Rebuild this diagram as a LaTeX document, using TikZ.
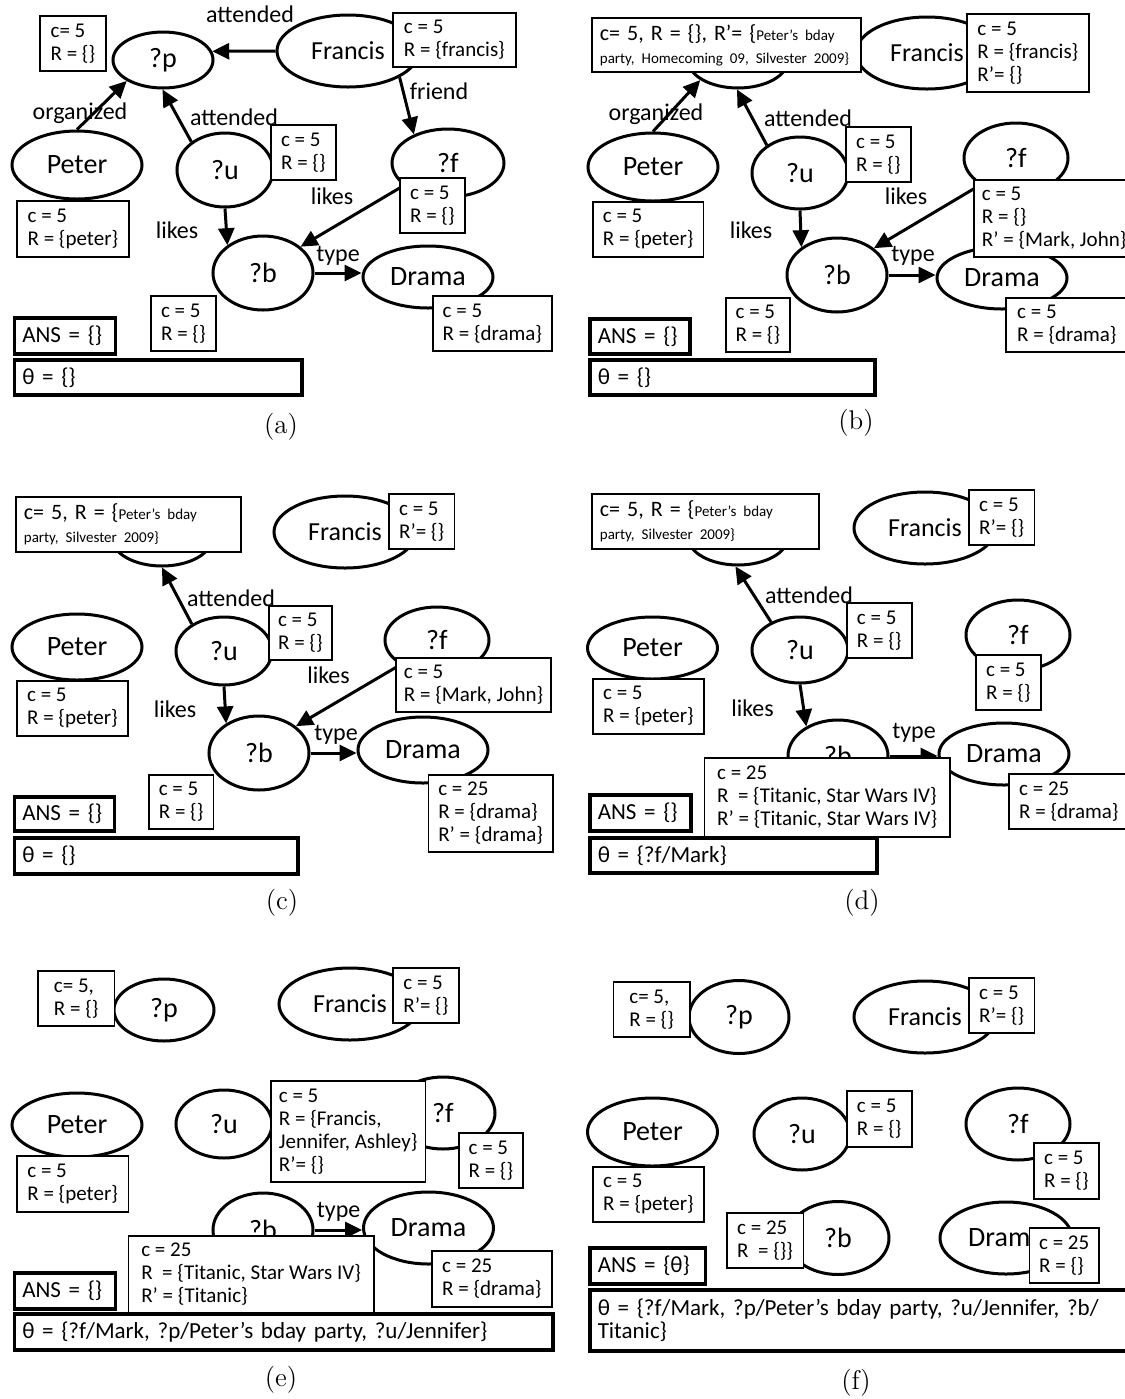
\documentclass[tikz,border=0pt]{standalone}
\usepackage{fontspec}
\setsansfont{Carlito}
\usetikzlibrary{shapes.geometric, arrows.meta}
\newcommand{\bxfont}{\sffamily\fontsize{10.5}{11.5}\selectfont}
\newcommand{\lgfont}{\fontsize{11}{11}\selectfont}
\newcommand{\smfont}{\fontsize{7.5}{11}\selectfont}

\begin{document}
\begin{tikzpicture}[x=0.5pt, y=-0.5pt,
    var/.style={ellipse, draw, fill=white, line width=1.5pt, inner sep=0pt,
      font=\sffamily\fontsize{14}{16}\selectfont},
    qp/.style={var, minimum width=50pt, minimum height=28pt},
    fr/.style={var, minimum width=71pt, minimum height=36pt,
      font=\sffamily\fontsize{13}{15}\selectfont},
    pe/.style={var, minimum width=65pt, minimum height=34pt},
    qu/.style={var, minimum width=48pt, minimum height=36pt},
    qf/.style={var, minimum width=52pt, minimum height=35pt},
    qb/.style={var, minimum width=50pt, minimum height=37pt},
    dr/.style={var, minimum width=65pt, minimum height=31pt},
    info/.style={draw, fill=white, line width=0.9pt, anchor=north west,
      align=left, inner xsep=4pt, inner ysep=1pt, font=\bxfont},
    boxsize/.style 2 args={minimum width=#1, minimum height=#2},
    result/.style={info, line width=1.75pt, text width=#1,
      font=\sffamily\fontsize{11.5}{11.5}\selectfont},
    rel/.style={-{Triangle[length=8.5pt, width=8pt]}, line width=1.5pt},
    lbl/.style={font=\sffamily\fontsize{12}{14}\selectfont, inner sep=0pt},
    subcap/.style={font=\fontsize{13.5}{16}\selectfont}]
  \useasboundingbox (0,0) rectangle (1125,1399);

  % (a) initial query graph
  \begin{scope}
    \node[qp] (ap) at (163,60) {?p};
    \node[fr] (aF) at (348,51) {Francis};
    \node[pe] (aPe) at (77,165) {Peter};
    \node[qu, minimum height=37pt] (au) at (225,170) {?u};
    \node[qf, minimum width=56pt, minimum height=34pt] (af) at (448,163) {?f};
    \node[qb] (ab) at (263,273) {?b};
    \node[dr] (aD) at (428,277) {Drama};

    \node[lbl] (aorg) at (80,113) {organized};
    \draw[rel] (aF.west) -- (ap.10);
    \draw[rel] (aPe.north) -- (ap.210);
    \draw[rel] (au.140) -- (ap.269);
    \draw[rel] (aF.333) -- (af.140);
    \draw[rel] (af.207) -- (ab.35);
    \draw[rel] (au.south) -- (ab.142);
    \draw[rel] (ab.east) -- (ab.east -| aD.west);

    \node[lbl] (aatt1) at (250,14) {attended};
    \node[lbl] (afri) at (439,91) {friend};
    \node[lbl] (aatt2) at (234,117) {attended};
    \node[lbl] (alik1) at (332,196) {likes};
    \node[lbl] (alik2) at (177,230) {likes};
    \node[lbl] (atyp) at (338,256) {type};

    \node[info, boxsize={33pt}{27.5pt}] (apbox) at (39,15) {c= 5\\R = \{\}};
    \node[info, boxsize={61.5pt}{27pt}] (aFbox) at (392,12) {c = 5\\R = \{francis\}};
    \node[info, boxsize={56pt}{28pt}] (aPebox) at (16,200) {c = 5\\R = \{peter\}};
    \node[info, boxsize={32.5pt}{27.5pt}] (aubox) at (270,124) {c = 5\\R = \{\}};
    \node[info, boxsize={32.5pt}{27.5pt}] (afbox) at (399,177) {c = 5\\R = \{\}};
    \node[info, boxsize={32.5pt}{27.5pt}] (abbox) at (150,295) {c = 5\\R = \{\}};
    \node[info, boxsize={59.5pt}{27.5pt}] (aDbox) at (432,295) {c = 5\\R = \{drama\}};
    \node[result=42.5pt, minimum height=18pt] (aans) at (12.5,316) {ANS = \{\}};
    \node[result=135.75pt, minimum height=17.5pt] (atheta) at (12.5,358) {θ = \{\}};
    \node[subcap] (acap) at (281,427) {(a)};
  \end{scope}

  % (b) ?p and ?f get their R' sets
  \begin{scope}[shift={(565,0)}]
    \node[qp] (bp) at (173,60) {};
    \node[fr] (bF) at (362,53) {Francis};
    \node[pe] (bPe) at (88,167) {Peter};
    \node[qu] (bu) at (235,173) {?u};
    \node[qf] (bf) at (451,158) {?f};
    \node[qb] (bb) at (272,275) {?b};
    \node[dr] (bD) at (437,278) {Drama};

    \node[lbl] (borg) at (91,114) {organized};
    \draw[rel] (bPe.north) -- (bp.208);
    \draw[rel] (bu.140) -- (bp.268);
    \draw[rel] (bu.south) -- (bb.142);
    \draw[rel] (bf.217) -- (bb.36);
    \draw[rel] (bb.east) -- (bb.east -| bD.west);

    \node[lbl] (batt) at (243,118) {attended};
    \node[lbl] (blik1) at (341,196) {likes};
    \node[lbl] (blik2) at (186,230) {likes};
    \node[lbl] (btyp) at (348,256) {type};

    \node[info, text width=126.5pt, minimum height=27pt] (bpbox) at (26,17)
      {\mbox{\lgfont c= 5, R = \{\}, R’= \{\smfont Peter’s bday}\\\mbox{\smfont party, Homecoming 09, Silvester 2009\}}};
    \node[info, boxsize={61pt}{39pt}] (bFbox) at (401,13) {c = 5\\R = \{francis\}\\R’= \{\}};
    \node[info, boxsize={55.25pt}{27.5pt}] (bPebox) at (27,201) {c = 5\\R = \{peter\}};
    \node[info, boxsize={32.5pt}{27.5pt}] (bubox) at (280,126) {c = 5\\R = \{\}};
    \node[info, boxsize={77pt}{38.5pt}] (bfbox) at (408,179) {c = 5\\R = \{\}\\R’ = \{Mark, John\}};
    \node[info, boxsize={32pt}{27pt}] (bbbox) at (160,297) {c = 5\\R = \{\}};
    \node[info, boxsize={61pt}{27pt}] (bDbox) at (440,297) {c = 5\\R = \{drama\}};
    \node[result=42pt, minimum height=17.5pt] (bans) at (23,317) {ANS = \{\}};
    \node[result=134.5pt, minimum height=17.5pt] (btheta) at (23,358) {θ = \{\}};
    \node[subcap] (bcap) at (291,423) {(b)};
  \end{scope}

  % (c) Peter and Francis bound
  \begin{scope}[shift={(0,470)}]
    \node[qp] (cp) at (162,68) {};
    \node[fr] (cF) at (345,62) {Francis};
    \node[pe, minimum height=33pt] (cPe) at (77,177) {Peter};
    \node[qu, minimum height=34pt] (cu) at (224,181) {?u};
    \node[qf, minimum height=33pt] (cf) at (437,170) {?f};
    \node[qb] (cb) at (259,283) {?b};
    \node[dr, minimum height=33pt] (cD) at (423,280) {Drama};

    \draw[rel] (cu.140) -- (cp.270);
    \draw[rel] (cu.south) -- (cb.138);
    \draw[rel] (cf.214) -- (cb.36);
    \draw[rel] (cb.east) -- (cb.east -| cD.west);

    \node[lbl] (catt) at (231,128) {attended};
    \node[lbl] (clik1) at (328.5,205) {likes};
    \node[lbl] (clik2) at (175,239) {likes};
    \node[lbl] (ctyp) at (336,265) {type};

    \node[info, text width=104.5pt, minimum height=27.5pt] (cpbox) at (15,26)
      {\mbox{\lgfont c= 5, R = \{\smfont Peter’s bday}\\\mbox{\smfont party, Silvester 2009\}}};
    \node[info, boxsize={32.75pt}{27.5pt}] (cFbox) at (388,23) {c = 5\\R’= \{\}};
    \node[info, boxsize={55.5pt}{27.5pt}] (cPebox) at (16,210) {c = 5\\R = \{peter\}};
    \node[info, boxsize={31.5pt}{27pt}] (cubox) at (268,135) {c = 5\\R = \{\}};
    \node[info, boxsize={73pt}{27pt}] (cfbox) at (395,187) {c = 5\\R = \{Mark, John\}};
    \node[info, boxsize={32.25pt}{27pt}] (cbbox) at (148,304) {c = 5\\R = \{\}};
    \node[info, boxsize={62.25pt}{38.5pt}] (cDbox) at (427.5,304) {c = 25\\R = \{drama\}\\R’ = \{drama\}};
    \node[result=42pt, minimum height=17pt] (cans) at (12.5,325) {ANS = \{\}};
    \node[result=133.75pt, minimum height=18pt] (ctheta) at (12.5,366) {θ = \{\}};
    \node[subcap] (ccap) at (282,433) {(c)};
  \end{scope}

  % (d) ?f bound to Mark
  \begin{scope}[shift={(565,470)}]
    \node[qp] (dp) at (173,67) {};
    \node[fr] (dF) at (360,58) {Francis};
    \node[pe, minimum height=31pt] (dPe) at (87.5,178) {Peter};
    \node[qu, minimum height=33pt] (du) at (235,180) {?u};
    \node[qf] (df) at (453,165) {?f};
    \node[qb, minimum height=36pt] (db) at (273,286) {?b};
    \node[dr] (dD) at (439,284) {Drama};

    \draw[rel] (du.136) -- (dp.265);
    \draw[rel] (du.south) -- (db.137);
    \draw[rel] (db.east) -- (db.east -| dD.west);

    \node[lbl] (datt) at (244,125) {attended};
    \node[lbl] (dlik) at (187.5,238) {likes};
    \node[lbl] (dtyp) at (349,263) {type};

    \node[info, text width=105.5pt, minimum height=27.5pt] (dpbox) at (26,23)
      {\mbox{\lgfont c= 5, R = \{\smfont Peter’s bday}\\\mbox{\smfont party, Silvester 2009\}}};
    \node[info, boxsize={32.8pt}{27.5pt}] (dFbox) at (403,19) {c = 5\\R’= \{\}};
    \node[info, boxsize={55.5pt}{27.5pt}] (dPebox) at (27,208) {c = 5\\R = \{peter\}};
    \node[info, boxsize={32.35pt}{27.5pt}] (dubox) at (281,132) {c = 5\\R = \{\}};
    \node[info, boxsize={32.5pt}{27.5pt}] (dfbox) at (410,184) {c = 5\\R = \{\}};
    \node[info, boxsize={122.7pt}{39.5pt}] (dbbox) at (138.6,287)
      {c = 25\\R\ \ = \{Titanic, Star Wars IV\}\\R’ = \{Titanic, Star Wars IV\}};
    \node[info, boxsize={60pt}{27.5pt}] (dDbox) at (443,303) {c = 25\\R = \{drama\}};
    \node[result=42.5pt, minimum height=18pt] (dans) at (23,323) {ANS = \{\}};
    \node[result=135.5pt, minimum height=17.5pt] (dtheta) at (23,366) {θ = \{?f/Mark\}};
    \node[subcap] (dcap) at (297,433) {(d)};
  \end{scope}

  % (e) ?p and ?u bound
  \begin{scope}[shift={(0,940)}]
    \node[qp, minimum height=31pt] (ep) at (164,70) {?p};
    \node[fr] (eF) at (350,64) {Francis};
    \node[pe, minimum height=32pt] (ePe) at (77,185) {Peter};
    \node[qu, minimum height=34pt] (eu) at (224,184) {?u};
    \node[qf, minimum height=36pt] (ef) at (443,173) {?f};
    \node[qb] (eb) at (263,290) {?b};
    \node[dr, minimum height=36pt] (eD) at (428.5,288) {Drama};

    \draw[rel] (eb.east) -- (eb.east -| eD.west);
    \node[lbl] (etyp) at (338.6,272) {type};

    \node[info, boxsize={38.3pt}{27.5pt}] (epbox) at (37,30) {c= 5,\\R = \{\}};
    \node[info, boxsize={33pt}{27.5pt}] (eFbox) at (392,27) {c = 5\\R’= \{\}};
    \node[info, boxsize={55.75pt}{28pt}] (ePebox) at (16,215) {c = 5\\R = \{peter\}};
    \node[info, boxsize={72pt}{50.5pt}] (eubox) at (270,140)
      {c = 5\\R = \{Francis,\\Jennifer, Ashley\}\\R’= \{\}};
    \node[info, boxsize={32pt}{27.5pt}] (efbox) at (458,192) {c = 5\\R = \{\}};
    \node[info, boxsize={122.75pt}{38.5pt}] (ebbox) at (127.5,295)
      {c = 25\\R\ \ = \{Titanic, Star Wars IV\}\\R’ = \{Titanic\}};
    \node[info, boxsize={60pt}{28pt}] (eDbox) at (431,310) {c = 25\\R = \{drama\}};
    \node[result=42.5pt, minimum height=18pt] (eans) at (12.5,331) {ANS = \{\}};
    \node[result=261.25pt, minimum height=18pt] (etheta) at (12.5,372)
      {θ = \{?f/Mark, ?p/Peter’s bday party, ?u/Jennifer\}};
    \node[subcap] (ecap) at (281,440) {(e)};
  \end{scope}

  % (f) all variables bound, answer found
  \begin{scope}[shift={(565,940)}]
    \node[qp, minimum height=36.5pt] (fp) at (174,77) {?p};
    \node[fr] (fF) at (360,77) {Francis};
    \node[pe] (fPe) at (87.5,192) {Peter};
    \node[qu] (fu) at (237,194) {?u};
    \node[qf, minimum height=36pt] (ff) at (453,184) {?f};
    \node[qb, minimum width=51pt, minimum height=36.5pt] (fb) at (273,298) {?b};
    \node[dr, minimum width=66pt, minimum height=36pt] (fD) at (441,298) {Drama};

    \node[info, boxsize={38.25pt}{27.5pt}] (fpbox) at (47.5,41) {c= 5,\\R = \{\}};
    \node[info, boxsize={32.8pt}{27.5pt}] (fFbox) at (403,37) {c = 5\\R’= \{\}};
    \node[info, boxsize={55.5pt}{27.5pt}] (fPebox) at (27,226) {c = 5\\R = \{peter\}};
    \node[info, boxsize={32.35pt}{28pt}] (fubox) at (281,150) {c = 5\\R = \{\}};
    \node[info, boxsize={32.5pt}{28pt}] (ffbox) at (468,202) {c = 5\\R = \{\}};
    \node[info, boxsize={38.25pt}{27.5pt}] (fbbox) at (161,272) {c = 25\\R\ \ = \{\}\}};
    \node[info, boxsize={34.7pt}{27.5pt}] (fDbox) at (463.6,287) {c = 25\\R = \{\}};
    \node[result=49.8pt, minimum height=18pt] (fans) at (23,306) {ANS = \{θ\}};
    \node[result=262pt, minimum height=30.5pt] (ftheta) at (23,348)
      {θ = \{?f/Mark, ?p/Peter’s bday party, ?u/Jennifer, ?b/\\Titanic\}};
    \node[subcap] (fcap) at (291,443) {(f)};
  \end{scope}
\end{tikzpicture}
\end{document}
